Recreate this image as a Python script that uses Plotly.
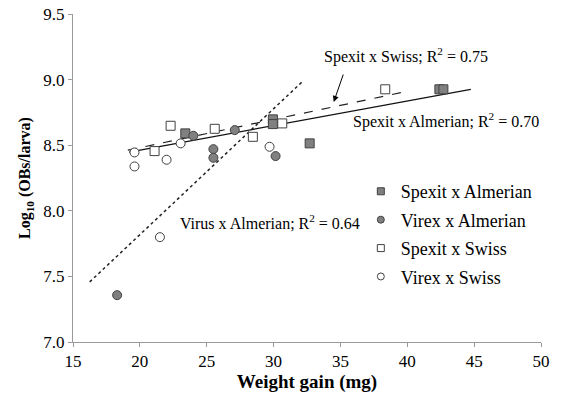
import plotly.graph_objects as go

# ---- data ----
spexit_alm_x = [23.4, 29.95, 29.95, 32.7, 42.4, 42.7]
spexit_alm_y = [8.59, 8.697, 8.661, 8.514, 8.926, 8.926]

virex_alm_x = [18.3, 24.0, 25.5, 25.5, 27.1, 30.15]
virex_alm_y = [7.357, 8.572, 8.47, 8.404, 8.615, 8.417]

spexit_sw_x = [21.1, 22.3, 25.6, 28.45, 30.65, 38.35]
spexit_sw_y = [8.455, 8.648, 8.625, 8.564, 8.666, 8.926]

virex_sw_x = [19.6, 19.6, 21.5, 22.0, 23.05, 29.7]
virex_sw_y = [8.445, 8.338, 7.799, 8.389, 8.514, 8.488]

# trend lines (end points)
trend_sa_x = [19.2, 44.75]
trend_sa_y = [8.447, 8.926]
trend_ss_x = [19.1, 40.1]
trend_ss_y = [8.462, 8.913]
trend_va_x = [16.25, 32.2]
trend_va_y = [7.458, 8.989]

series_names = ["Spexit x Almerian", "Virex x Almerian", "Spexit x Swiss", "Virex x Swiss"]
x_ticks = [15, 20, 25, 30, 35, 40, 45, 50]
y_ticks = [7.0, 7.5, 8.0, 8.5, 9.0, 9.5]

FONT = "Liberation Serif, Times New Roman, serif"
GRAY = "#808080"
EDGE = "#404040"

fig = go.Figure()

# trend lines
fig.add_trace(go.Scatter(x=trend_va_x, y=trend_va_y, mode="lines",
                         line=dict(color="#222", width=1.5, dash="dot"), showlegend=False))
fig.add_trace(go.Scatter(x=trend_ss_x, y=trend_ss_y, mode="lines",
                         line=dict(color="#222", width=1.2, dash="dash"), showlegend=False))
fig.add_trace(go.Scatter(x=trend_sa_x, y=trend_sa_y, mode="lines",
                         line=dict(color="#111", width=1.3), showlegend=False))

styles = [
    dict(symbol="square", color=GRAY),
    dict(symbol="circle", color=GRAY),
    dict(symbol="square", color="white"),
    dict(symbol="circle", color="white"),
]
data = [(spexit_alm_x, spexit_alm_y), (virex_alm_x, virex_alm_y),
        (spexit_sw_x, spexit_sw_y), (virex_sw_x, virex_sw_y)]

for (xs, ys), st, nm in zip(data, styles, series_names):
    fig.add_trace(go.Scatter(x=xs, y=ys, mode="markers", showlegend=False,
                             marker=dict(symbol=st["symbol"], color=st["color"], size=9,
                                         line=dict(color=EDGE, width=1))))

# legend-only traces with smaller markers
for i, (st, nm) in enumerate(zip(styles, series_names)):
    fig.add_trace(go.Scatter(x=[None], y=[None], mode="markers", name=nm,
                             legendgroup=f"g{i}",
                             marker=dict(symbol=st["symbol"], color=st["color"], size=7,
                                         line=dict(color=EDGE, width=1))))

annots = [
    dict(x=39.9, y=9.18, text="Spexit x Swiss; R<sup>2</sup> = 0.75"),
    dict(x=42.9, y=8.69, text="Spexit x Almerian; R<sup>2</sup> = 0.70"),
    dict(x=29.75, y=7.915, text="Virus x Almerian; R<sup>2</sup> = 0.64"),
]
for a in annots:
    fig.add_annotation(x=a["x"], y=a["y"], text=a["text"], showarrow=False,
                       font=dict(family=FONT, size=16, color="black"))

# arrow from label to dashed line
fig.add_annotation(x=34.5, y=8.83, ax=35.25, ay=9.05, xref="x", yref="y",
                   axref="x", ayref="y", text="", showarrow=True,
                   arrowhead=2, arrowsize=1.2, arrowwidth=1, arrowcolor="black")

axis_common = dict(showgrid=False, zeroline=False, showline=True, linecolor="#999",
                   linewidth=1, ticks="outside", tickcolor="#999", ticklen=4,
                   automargin=False,
                   tickfont=dict(family=FONT, size=17, color="black"))

fig.update_layout(
    width=561, height=395,
    margin=dict(l=73, r=20, t=14, b=53),
    plot_bgcolor="white", paper_bgcolor="white",
    font=dict(family=FONT, color="black"),
    xaxis=dict(range=[15, 50], tickvals=x_ticks,
               title=dict(text="<b>Weight gain (mg)</b>", font=dict(family=FONT, size=19), standoff=4),
               **axis_common),
    yaxis=dict(range=[7.0, 9.5], tickvals=y_ticks, tickformat=".1f",
               title=dict(text="<b>Log<sub>10</sub> (OBs/larva)</b>", font=dict(family=FONT, size=16), standoff=8),
               **axis_common),
    legend=dict(x=0.615, y=0.515, xanchor="left", yanchor="top",
                font=dict(family=FONT, size=18, color="black"),
                bgcolor="rgba(0,0,0,0)", tracegroupgap=2, itemwidth=30,
                traceorder="grouped"),
)

fig.write_html("out.html")
